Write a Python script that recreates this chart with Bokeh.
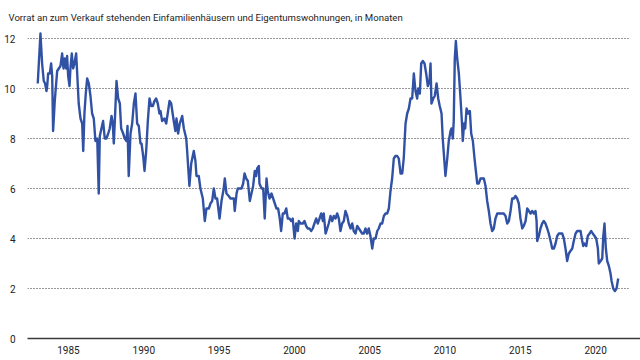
from bokeh.plotting import figure
from bokeh.models import Range1d, FixedTicker
from bokeh.embed import file_html
from bokeh.resources import INLINE

FONT = "Roboto"

title_text = "Vorrat an zum Verkauf stehenden Einfamilienhäusern und Eigentumswohnungen, in Monaten"
x_ticks = [1985, 1990, 1995, 2000, 2005, 2010, 2015, 2020]
y_ticks = [0, 2, 4, 6, 8, 10, 12]
grid_levels = [2, 4, 6, 8, 10, 12]

years = [
    1982.96, 1983.14, 1983.25, 1983.36, 1983.45, 1983.54, 1983.59, 1983.65, 1983.76, 1983.85, 1983.92, 1983.98,
    1984.09, 1984.25, 1984.36, 1984.47, 1984.58, 1984.67, 1984.75, 1984.85, 1984.91, 1984.98,
    1985.07, 1985.13, 1985.22, 1985.31, 1985.40, 1985.51, 1985.58, 1985.68, 1985.80, 1985.91, 1985.98,
    1986.06, 1986.15, 1986.24, 1986.35, 1986.46, 1986.57, 1986.68, 1986.79, 1986.91,
    1987.01, 1987.08, 1987.19, 1987.30, 1987.41, 1987.52, 1987.64, 1987.74, 1987.86, 1987.94,
    1988.01, 1988.10, 1988.19, 1988.30, 1988.41, 1988.50, 1988.63, 1988.74, 1988.85, 1988.92,
    1989.00, 1989.12, 1989.23, 1989.34, 1989.45, 1989.56, 1989.67, 1989.78, 1989.85, 1989.96,
    1990.05, 1990.16, 1990.27, 1990.38, 1990.49, 1990.60, 1990.71, 1990.82, 1990.93,
    1991.04, 1991.11, 1991.22, 1991.37, 1991.49, 1991.71, 1991.82, 1991.99,
    1992.10, 1992.17, 1992.28, 1992.39, 1992.55, 1992.66, 1992.82, 1992.88,
    1993.03, 1993.15, 1993.32, 1993.43, 1993.50, 1993.65, 1993.76, 1993.92,
    1994.05, 1994.16, 1994.32, 1994.43, 1994.54, 1994.65, 1994.76, 1994.87,
    1995.03, 1995.16, 1995.31, 1995.38, 1995.49, 1995.64, 1995.76, 1995.87, 1995.98,
    1996.04, 1996.16, 1996.24, 1996.37, 1996.49, 1996.60, 1996.69, 1996.80, 1996.91,
    1997.04, 1997.15, 1997.26, 1997.37, 1997.46, 1997.53, 1997.64, 1997.68, 1997.82, 1997.93,
    1998.03, 1998.15, 1998.23, 1998.35, 1998.48, 1998.59, 1998.70, 1998.81, 1998.92,
    1999.03, 1999.12, 1999.23, 1999.34, 1999.46, 1999.56, 1999.67, 1999.79, 1999.89,
    2000.01, 2000.12, 2000.23, 2000.29, 2000.41, 2000.56, 2000.67, 2000.78, 2000.89,
    2001.00, 2001.12, 2001.22, 2001.33, 2001.45, 2001.55, 2001.67, 2001.78, 2001.89, 2001.95,
    2002.07, 2002.18, 2002.28, 2002.40, 2002.51, 2002.62, 2002.73, 2002.84, 2002.95,
    2003.06, 2003.17, 2003.28, 2003.39, 2003.51, 2003.61, 2003.73, 2003.84, 2003.94,
    2004.06, 2004.17, 2004.28, 2004.39, 2004.50, 2004.61, 2004.72, 2004.83, 2004.94,
    2005.05, 2005.17, 2005.27, 2005.39, 2005.50, 2005.60, 2005.72, 2005.83, 2005.94,
    2006.05, 2006.16, 2006.27, 2006.38, 2006.49, 2006.60, 2006.71, 2006.83, 2006.93,
    2007.05, 2007.16, 2007.26, 2007.38, 2007.49, 2007.60, 2007.71, 2007.82, 2007.93,
    2008.04, 2008.15, 2008.22, 2008.33, 2008.42, 2008.53, 2008.64, 2008.75, 2008.86, 2008.97,
    2009.04, 2009.10, 2009.22, 2009.32, 2009.44, 2009.55, 2009.65, 2009.77, 2009.85, 2009.97,
    2010.03, 2010.15, 2010.25, 2010.37, 2010.43, 2010.52, 2010.58, 2010.65, 2010.72, 2010.81, 2010.92,
    2011.03, 2011.12, 2011.18, 2011.27, 2011.34, 2011.43, 2011.54, 2011.65, 2011.74, 2011.85, 2011.96,
    2012.05, 2012.14, 2012.24, 2012.36, 2012.47, 2012.58, 2012.69, 2012.80, 2012.91,
    2013.02, 2013.13, 2013.24, 2013.35, 2013.47, 2013.57, 2013.69, 2013.80, 2013.90,
    2014.02, 2014.13, 2014.24, 2014.35, 2014.46, 2014.57, 2014.68, 2014.79, 2014.90,
    2015.01, 2015.13, 2015.23, 2015.35, 2015.46, 2015.57, 2015.68, 2015.79, 2015.90,
    2016.01, 2016.08, 2016.12, 2016.23, 2016.34, 2016.45, 2016.56, 2016.67, 2016.79, 2016.89,
    2017.01, 2017.12, 2017.23, 2017.34, 2017.45, 2017.56, 2017.67, 2017.78, 2017.89,
    2018.00, 2018.11, 2018.22, 2018.33, 2018.45, 2018.55, 2018.67, 2018.78, 2018.89,
    2019.00, 2019.11, 2019.18, 2019.26, 2019.38, 2019.48, 2019.60, 2019.71, 2019.81, 2019.93,
    2020.04, 2020.15, 2020.21, 2020.33, 2020.44, 2020.51, 2020.59, 2020.68, 2020.77, 2020.88, 2020.99,
    2021.06, 2021.17, 2021.28, 2021.39, 2021.50,
]

supply = [
    10.2, 12.2, 11.0, 10.3, 10.2, 9.9, 10.1, 10.6, 10.6, 11.0, 10.5, 8.3,
    9.5, 10.7, 10.8, 10.9, 11.4, 10.8, 11.2, 10.8, 11.3, 10.5,
    10.1, 10.8, 11.4, 10.8, 11.0, 11.4, 10.6, 9.4, 8.8, 8.6, 7.5,
    9.0, 9.8, 10.4, 10.2, 9.7, 9.0, 8.8, 7.9, 8.0,
    5.8, 8.1, 8.4, 8.7, 8.0, 8.0, 8.2, 8.4, 8.9, 8.6,
    7.8, 9.0, 10.3, 9.6, 9.4, 8.4, 8.2, 8.0, 7.9, 8.5,
    6.5, 8.2, 8.6, 9.4, 9.8, 8.6, 8.5, 7.8, 7.8, 7.3,
    6.7, 7.5, 8.7, 9.6, 9.3, 9.3, 9.5, 9.6, 9.4,
    9.0, 9.1, 8.7, 8.8, 8.6, 9.5, 9.4, 8.7,
    8.3, 8.8, 8.2, 8.6, 8.9, 8.4, 8.0, 7.5,
    6.1, 7.0, 7.5, 7.1, 6.5, 6.5, 6.0, 5.6,
    4.7, 5.2, 5.2, 5.4, 5.5, 6.0, 5.6, 5.6,
    4.8, 5.5, 6.0, 6.4, 5.8, 5.7, 5.6, 5.6, 5.6,
    5.1, 5.8, 6.0, 6.0, 6.0, 6.2, 6.6, 6.4, 6.3,
    5.5, 5.8, 6.1, 6.7, 6.5, 6.8, 6.9, 6.2, 6.0, 6.0,
    4.8, 6.4, 5.9, 5.6, 5.8, 5.6, 5.4, 5.2, 5.2,
    4.8, 4.3, 5.0, 5.0, 5.2, 4.8, 4.8, 4.7, 4.8,
    4.0, 4.6, 4.3, 4.7, 4.6, 4.6, 4.7, 4.5, 4.4,
    4.4, 4.3, 4.4, 4.6, 4.8, 4.6, 4.8, 5.0, 4.7, 5.0,
    4.2, 4.4, 4.6, 4.9, 4.7, 4.9, 4.8, 5.0, 4.8,
    4.3, 4.6, 4.7, 5.1, 4.9, 4.6, 4.4, 4.6, 4.3,
    4.2, 4.5, 4.4, 4.3, 4.2, 4.2, 4.4, 4.2, 4.4,
    4.1, 3.6, 4.0, 4.0, 4.3, 4.4, 4.6, 4.6, 4.9,
    5.0, 5.0, 5.2, 5.9, 6.4, 7.2, 7.3, 7.3, 7.2,
    6.6, 6.6, 7.2, 8.6, 9.0, 9.2, 9.6, 9.6, 10.6,
    9.9, 9.6, 10.0, 9.8, 11.0, 11.1, 11.0, 10.6, 10.1, 10.3,
    11.0, 9.4, 9.6, 9.7, 10.2, 9.6, 9.3, 9.0, 8.0, 7.0,
    6.5, 7.2, 7.9, 8.3, 8.4, 8.0, 8.7, 11.2, 11.9, 11.2, 10.6,
    9.6, 8.7, 7.9, 8.6, 8.4, 9.2, 9.0, 9.1, 8.2, 7.9, 7.2,
    6.7, 6.2, 6.2, 6.4, 6.4, 6.4, 6.1, 5.5, 5.1,
    4.6, 4.3, 4.4, 4.8, 5.0, 5.0, 5.0, 5.0, 5.0,
    4.9, 4.6, 4.7, 5.1, 5.6, 5.6, 5.7, 5.6, 5.4,
    4.8, 4.4, 4.5, 4.7, 5.2, 5.1, 5.0, 5.1, 5.0,
    5.1, 4.7, 3.9, 4.1, 4.4, 4.6, 4.7, 4.6, 4.4, 4.2,
    3.9, 3.6, 3.6, 3.8, 4.1, 4.2, 4.2, 4.2, 4.0,
    3.6, 3.1, 3.4, 3.5, 3.6, 3.9, 4.2, 4.3, 4.3,
    4.3, 3.9, 3.7, 3.8, 3.7, 4.1, 4.2, 4.3, 4.2, 4.1,
    4.0, 3.6, 3.0, 3.1, 3.2, 4.1, 4.6, 3.6, 3.1, 2.9, 2.6,
    2.3, 2.0, 1.9, 2.0, 2.4,
]

X_START, X_END = 1982.28, 2022.98   # visible range
GRID_END = 2022.18                  # dotted guides stop a little before the right edge

p = figure(
    width=640, height=360,
    output_backend="svg", toolbar_location=None,
    x_range=Range1d(X_START, X_END), y_range=Range1d(0, 12.32),
    min_border_left=27, min_border_right=0, min_border_top=30, min_border_bottom=22,
    background_fill_color="white", border_fill_color="white",
)
p.outline_line_color = None

p.title.text = title_text
p.title.text_font = FONT
p.title.text_font_size = "9.6px"
p.title.text_font_style = "normal"
p.title.text_color = "#1e1e1e"
p.title.align = "left"
p.title.offset = -19
p.title.standoff = 15

p.xaxis.ticker = FixedTicker(ticks=x_ticks)
p.xaxis.major_tick_line_color = None
p.xaxis.minor_tick_line_color = None
p.xaxis.axis_line_color = "#3a3a3a"
p.xaxis.axis_line_width = 1.5
p.xaxis.major_label_text_font = FONT
p.xaxis.major_label_text_font_size = "10px"
p.xaxis.major_label_text_color = "#222222"
p.xaxis.major_label_standoff = 1

p.yaxis.ticker = FixedTicker(ticks=y_ticks)
p.yaxis.major_tick_line_color = None
p.yaxis.minor_tick_line_color = None
p.yaxis.axis_line_color = None
p.yaxis.major_label_text_font = FONT
p.yaxis.major_label_text_font_size = "10px"
p.yaxis.major_label_text_color = "#222222"
p.yaxis.major_label_standoff = 6

p.xgrid.grid_line_color = None
p.ygrid.grid_line_color = None

# dotted horizontal guides, one per tick level
p.segment(x0=[X_START] * len(grid_levels), y0=grid_levels,
          x1=[GRID_END] * len(grid_levels), y1=grid_levels,
          line_color="#333333", line_dash="1 2", line_width=1)

p.line(years, supply, line_color="#3152a4", line_width=2.4, line_join="round")

open("out.html", "w").write(file_html(p, INLINE))
